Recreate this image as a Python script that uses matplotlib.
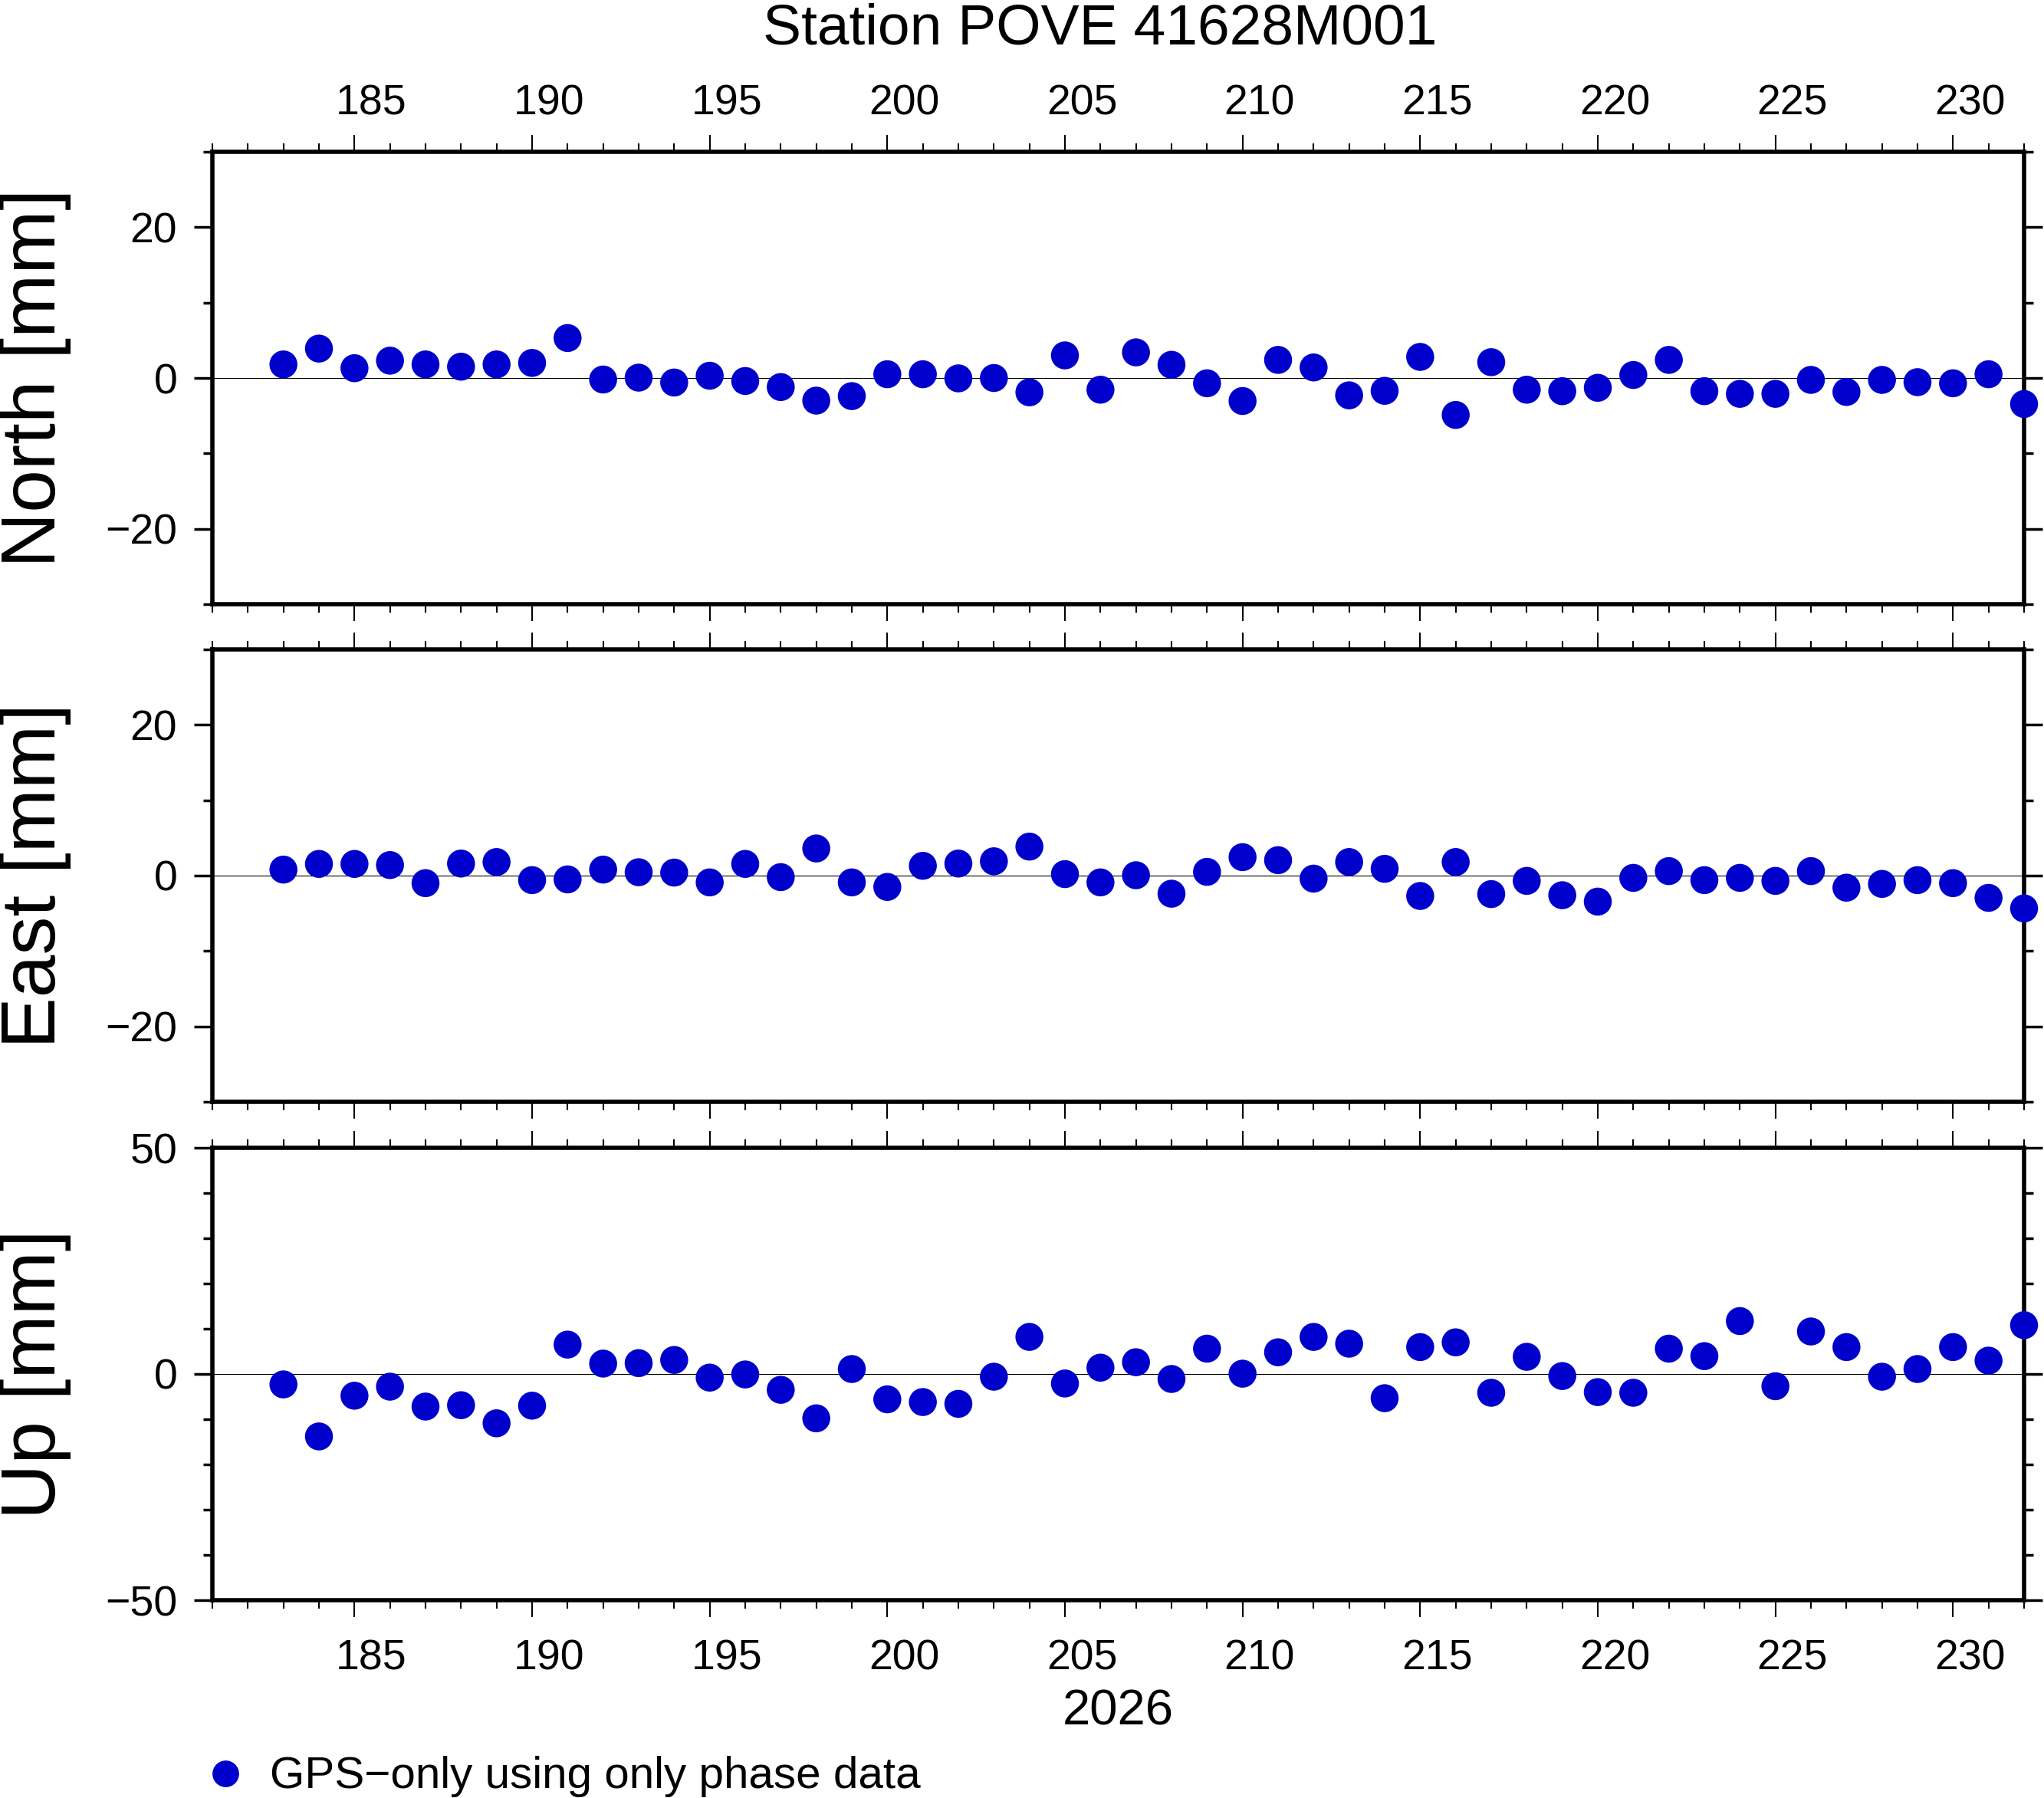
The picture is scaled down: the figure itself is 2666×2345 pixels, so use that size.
import matplotlib
matplotlib.use("Agg")
import matplotlib.pyplot as plt
from matplotlib.ticker import MultipleLocator
from matplotlib.lines import Line2D
import matplotlib.transforms as mtransforms

plt.rcParams['font.family'] = ['Liberation Sans', 'DejaVu Sans']

# day of year 2026
days = [183, 184, 185, 186, 187, 188, 189, 190, 191, 192,
        193, 194, 195, 196, 197, 198, 199, 200, 201, 202,
        203, 204, 205, 206, 207, 208, 209, 210, 211, 212,
        213, 214, 215, 216, 217, 218, 219, 220, 221, 222,
        223, 224, 225, 226, 227, 228, 229, 230, 231, 232]

north = [1.8, 3.9, 1.3, 2.3, 1.8, 1.5, 1.8, 2.0, 5.3, -0.2,
         0.05, -0.6, 0.3, -0.4, -1.2, -3.0, -2.4, 0.5, 0.5, -0.05,
         0.0, -1.9, 3.0, -1.55, 3.4, 1.75, -0.7, -3.05, 2.4, 1.4,
         -2.3, -1.7, 2.8, -4.9, 2.1, -1.55, -1.75, -1.3, 0.4, 2.4,
         -1.75, -2.1, -2.1, -0.25, -1.85, -0.25, -0.55, -0.7, 0.5, -3.45]

east = [0.8, 1.55, 1.55, 1.4, -1.0, 1.6, 1.8, -0.6, -0.5, 0.8,
        0.45, 0.4, -0.9, 1.55, -0.2, 3.6, -0.9, -1.5, 1.3, 1.6,
        1.9, 3.85, 0.2, -0.9, 0.05, -2.4, 0.5, 2.45, 2.05, -0.4,
        1.8, 0.9, -2.7, 1.8, -2.45, -0.7, -2.6, -3.45, -0.3, 0.6,
        -0.6, -0.3, -0.7, 0.6, -1.6, -1.1, -0.6, -1.0, -2.95, -4.35]

up = [-2.3, -13.8, -4.8, -2.8, -7.2, -6.9, -10.9, -7.0, 6.5, 2.3,
      2.4, 3.1, -0.8, -0.1, -3.5, -9.8, 1.1, -5.6, -6.2, -6.6,
      -0.6, 8.2, -2.1, 1.4, 2.6, -1.1, 5.6, 0.07, 4.8, 8.2,
      6.7, -5.35, 5.95, 7.0, -4.15, 3.8, -0.45, -4.0, -4.15, 5.6,
      3.95, 11.7, -2.7, 9.4, 5.95, -0.6, 1.1, 5.95, 2.95, 10.8]

xticks = [185, 190, 195, 200, 205, 210, 215, 220, 225, 230]
xlim = (181, 232)
title = "Station POVE 41628M001"
year_label = "2026"
legend_label = "GPS\u2212only using only phase data"
dot_color = "#0000cc"

W, H = 2666, 2345
fig = plt.figure(figsize=(W / 100, H / 100), dpi=100)

# (label, values, ylim, major step, minor step, top pixel)
panels = [
    ("North [mm]", north, (-30, 30), 20, 10, 198),
    ("East [mm]", east, (-30, 30), 20, 10, 847),
    ("Up [mm]", up, (-50, 50), 50, 10, 1497),
]

left_px, right_px, height_px = 277, 2640, 590

for i, (label, vals, ylim, major, minor, top_px) in enumerate(panels):
    ax = fig.add_axes([left_px / W, 1 - (top_px + height_px) / H,
                       (right_px - left_px) / W, height_px / H])
    ax.axhline(0, color="black", lw=0.8, zorder=1)
    ax.scatter(days, vals, s=690, color=dot_color, edgecolors="none",
               zorder=5, clip_on=False)
    ax.set_xlim(*xlim)
    ax.set_ylim(*ylim)

    ax.xaxis.set_major_locator(plt.FixedLocator(xticks))
    ax.xaxis.set_minor_locator(MultipleLocator(1))
    ax.yaxis.set_major_locator(MultipleLocator(major))
    ax.yaxis.set_minor_locator(MultipleLocator(minor))

    ax.tick_params(axis="x", which="both", direction="out", top=True,
                   bottom=True, labelbottom=False, labeltop=False)
    ax.tick_params(axis="x", which="major", length=16, width=1.5)
    ax.tick_params(axis="x", which="minor", length=8, width=1.5)
    ax.tick_params(axis="y", which="both", direction="out", left=True,
                   right=True, labelright=False)
    ax.tick_params(axis="y", which="major", length=17, width=2.5,
                   labelsize=40, pad=16)
    ax.tick_params(axis="y", which="minor", length=8.5, width=2.5)

    for sp in ax.spines.values():
        sp.set_linewidth(4)

    # component label at the far left of the figure
    fig.text(46 / W, 1 - (top_px + height_px / 2) / H, label, rotation=90,
             ha="center", va="center", fontsize=72)

    # day labels sit in the middle of the day interval
    trans = mtransforms.blended_transform_factory(ax.transData, ax.transAxes)
    if i == 0:
        for d in xticks:
            ax.text(d + 0.48, 1 + 48 / height_px, str(d), transform=trans,
                    ha="center", va="baseline", fontsize=40)
    if i == len(panels) - 1:
        for d in xticks:
            ax.text(d + 0.48, -91 / height_px, str(d), transform=trans,
                    ha="center", va="baseline", fontsize=40)
        ax.text(0.5, -163 / height_px, year_label, transform=ax.transAxes,
                ha="center", va="baseline", fontsize=47)

fig.text(1435 / W, 1 - 57 / H, title, ha="center", va="baseline", fontsize=54)

fig.add_artist(Line2D([294 / W], [1 - 2313 / H], marker="o", markersize=25,
                      color=dot_color, markeredgewidth=0, linestyle="none",
                      transform=fig.transFigure))
fig.text(352 / W, 1 - 2332 / H, legend_label, ha="left", va="baseline",
         fontsize=42)

fig.savefig("out.png", dpi=100)
